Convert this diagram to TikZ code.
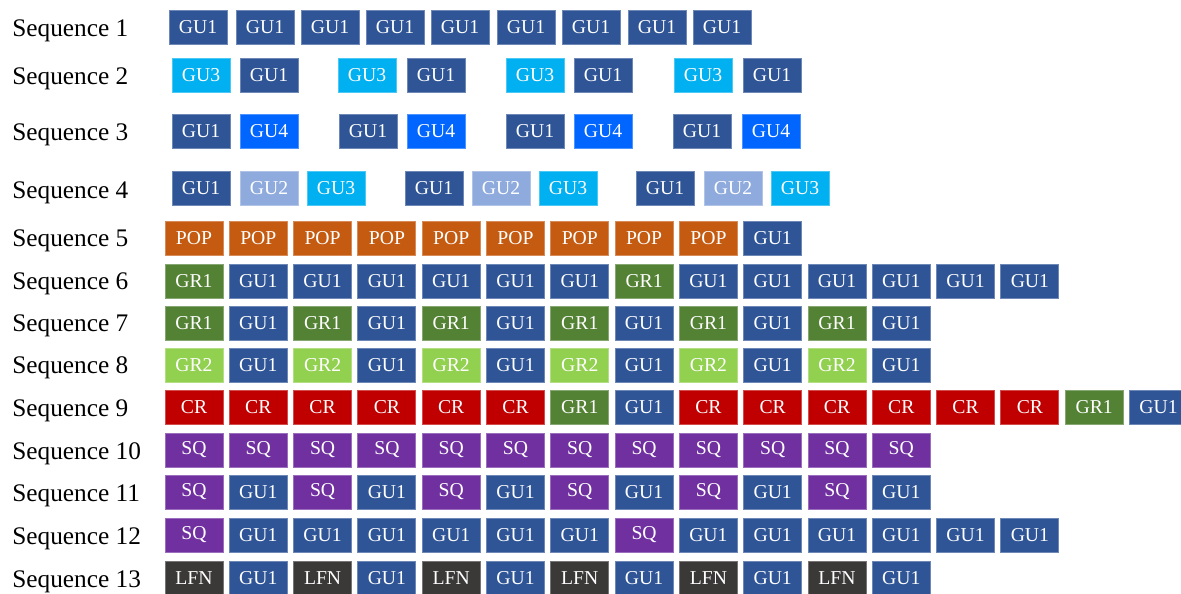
\documentclass[tikz,border=0pt]{standalone}
\usepackage{fontspec}
\setmainfont{Liberation Serif}
\usepackage{tikz}
\definecolor{colGU1}{HTML}{2F5597}
\definecolor{colGU2}{HTML}{8FAADC}
\definecolor{colGU3}{HTML}{00B0F0}
\definecolor{colGU4}{HTML}{0066FF}
\definecolor{colPOP}{HTML}{C55A11}
\definecolor{colGR1}{HTML}{548235}
\definecolor{colGR2}{HTML}{92D050}
\definecolor{colCR}{HTML}{C00000}
\definecolor{colSQ}{HTML}{7030A0}
\definecolor{colLFN}{HTML}{3B3838}

\begin{document}
\begin{tikzpicture}[x=0.02cm,y=-0.02cm,
      seqlabel/.style={anchor=west,inner sep=0pt,font=\fontsize{14.4}{17}\selectfont},
      unit/.style={draw=col#1!70!white,fill=col#1,line width=0.5pt,text=white,
        minimum width=1.16cm,minimum height=0.68cm,inner sep=0pt,
        font=\fontsize{11.2}{13}\selectfont}]
    \clip (0,0) rectangle (1181,594);
    \fill[white] (0,0) rectangle (1181,594);
    % row labels
    \foreach \r/\y in {1/31,2/79,3/135,4/193,5/241,6/284,7/326,8/368,9/411,10/454,11/496,12/539,13/582}
      \node[seqlabel] (seq\r) at (12,\y) {Sequence \r};
    % sequences 1--4: spaced groups
    \foreach \lab/\x [count=\i] in {GU1/198,GU1/265,GU1/330,GU1/395,GU1/460,GU1/526,GU1/591,GU1/657,GU1/722}
      \node[unit=\lab] (s1b\i) at (\x,27) {\lab};
    \foreach \lab/\x [count=\i] in {GU3/201,GU1/269,GU3/367,GU1/436,GU3/535,GU1/603,GU3/703,GU1/772}
      \node[unit=\lab] (s2b\i) at (\x,75) {\lab};
    \foreach \lab/\x [count=\i] in {GU1/201,GU4/269,GU1/368,GU4/436,GU1/535,GU4/603,GU1/702,GU4/771}
      \node[unit=\lab] (s3b\i) at (\x,131) {\lab};
    \foreach \lab/\x [count=\i] in {GU1/201,GU2/269,GU3/336,GU1/434,GU2/501,GU3/568,GU1/665,GU2/733,GU3/800}
      \node[unit=\lab] (s4b\i) at (\x,188) {\lab};
    % sequences 5--13: packed rows
    \foreach \lab [count=\i] in {POP,POP,POP,POP,POP,POP,POP,POP,POP,GU1}
      \node[unit=\lab] (s5b\i) at ({194+64.3*(\i-1)},238) {\lab};
    \foreach \lab [count=\i] in {GR1,GU1,GU1,GU1,GU1,GU1,GU1,GR1,GU1,GU1,GU1,GU1,GU1,GU1}
      \node[unit=\lab] (s6b\i) at ({194+64.3*(\i-1)},281) {\lab};
    \foreach \lab [count=\i] in {GR1,GU1,GR1,GU1,GR1,GU1,GR1,GU1,GR1,GU1,GR1,GU1}
      \node[unit=\lab] (s7b\i) at ({194+64.3*(\i-1)},323) {\lab};
    \foreach \lab [count=\i] in {GR2,GU1,GR2,GU1,GR2,GU1,GR2,GU1,GR2,GU1,GR2,GU1}
      \node[unit=\lab] (s8b\i) at ({194+64.3*(\i-1)},365) {\lab};
    \foreach \lab [count=\i] in {CR,CR,CR,CR,CR,CR,GR1,GU1,CR,CR,CR,CR,CR,CR,GR1,GU1}
      \node[unit=\lab] (s9b\i) at ({194+64.3*(\i-1)},407) {\lab};
    \foreach \lab [count=\i] in {SQ,SQ,SQ,SQ,SQ,SQ,SQ,SQ,SQ,SQ,SQ,SQ}
      \node[unit=\lab] (s10b\i) at ({194+64.3*(\i-1)},450) {\lab};
    \foreach \lab [count=\i] in {SQ,GU1,SQ,GU1,SQ,GU1,SQ,GU1,SQ,GU1,SQ,GU1}
      \node[unit=\lab] (s11b\i) at ({194+64.3*(\i-1)},492) {\lab};
    \foreach \lab [count=\i] in {SQ,GU1,GU1,GU1,GU1,GU1,GU1,SQ,GU1,GU1,GU1,GU1,GU1,GU1}
      \node[unit=\lab] (s12b\i) at ({194+64.3*(\i-1)},535) {\lab};
    \foreach \lab [count=\i] in {LFN,GU1,LFN,GU1,LFN,GU1,LFN,GU1,LFN,GU1,LFN,GU1}
      \node[unit=\lab] (s13b\i) at ({194+64.3*(\i-1)},578) {\lab};
  \end{tikzpicture}
\end{document}
